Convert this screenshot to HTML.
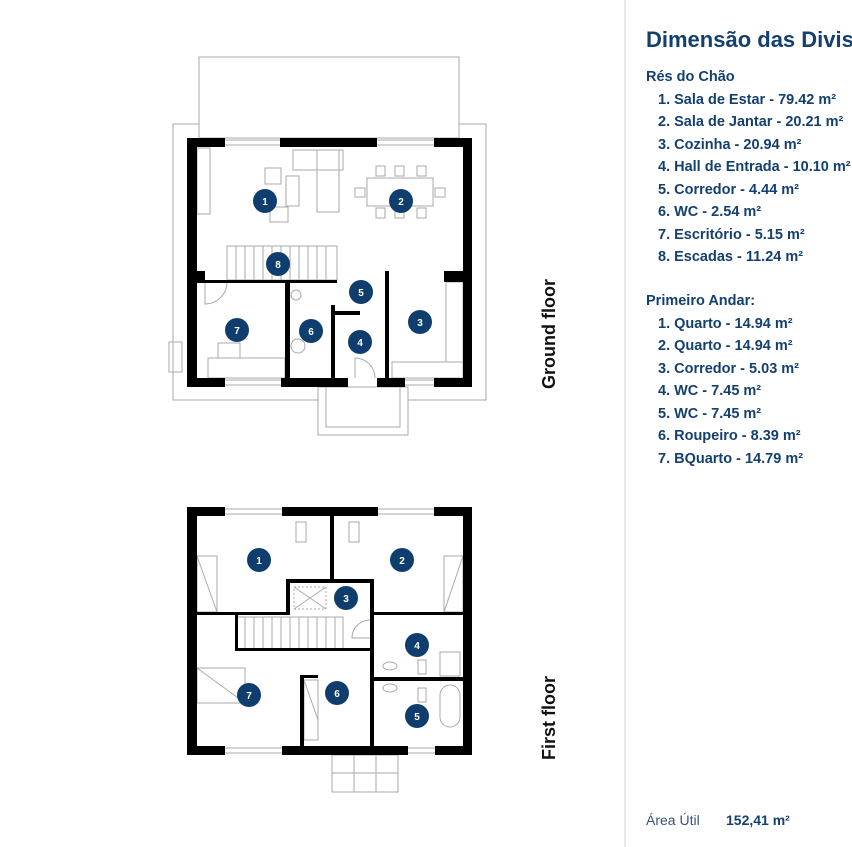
<!DOCTYPE html>
<html><head><meta charset="utf-8">
<style>
html,body{margin:0;padding:0;background:#fff;}
body{width:852px;height:847px;position:relative;overflow:hidden;font-family:"Liberation Sans","DejaVu Sans",sans-serif;}
.t{position:absolute;color:#14406f;white-space:nowrap;font-weight:bold;}
.h1{left:646px;top:27px;font-size:22px;}
.sec{left:646px;font-size:14.5px;}
.it{left:658px;font-size:14.5px;}
.div{position:absolute;left:624px;top:0;width:2px;height:847px;background:#e8e8e8;}
</style></head><body>
<svg width="852" height="847" style="position:absolute;left:0;top:0" xmlns="http://www.w3.org/2000/svg">
<g fill="none" stroke="#aaa" stroke-width="1">
<rect x="199" y="57" width="260" height="81"/>
<polyline points="199,124 173,124 173,400 318,400"/>
<polyline points="459,124 486,124 486,400 408,400"/>
<rect x="318" y="387" width="90" height="48"/>
<rect x="326" y="387" width="74" height="40"/>
<rect x="169" y="342" width="13" height="30"/>
<!-- windows -->
<path d="M225 140h55M225 145h55M377 140h57M377 145h57M225 380h56M225 385h56M405 380h29M405 385h29"/>
<path d="M225 509h57M225 514h57M378 509h56M378 514h56M225 748h57M225 753h57M408 748h27M408 753h27"/>
<rect x="197" y="148" width="13" height="66"/>
<rect x="265" y="168" width="16" height="16"/>
<rect x="286" y="176" width="13" height="30"/>
<rect x="293" y="150" width="50" height="20"/>
<rect x="317" y="150" width="22" height="62"/>
<rect x="270" y="207" width="18" height="15"/>
<rect x="367" y="178" width="66" height="28"/>
<rect x="355" y="188" width="10" height="9"/><rect x="435" y="188" width="10" height="9"/>
<rect x="376" y="166" width="9" height="10"/><rect x="395" y="166" width="9" height="10"/><rect x="417" y="166" width="9" height="10"/>
<rect x="376" y="208" width="9" height="10"/><rect x="395" y="208" width="9" height="10"/><rect x="417" y="208" width="9" height="10"/>
<rect x="227" y="246" width="110" height="34"/>
<path d="M236 246v34M245 246v34M254 246v34M263 246v34M272 246v34M281 246v34M290 246v34M299 246v34M308 246v34M317 246v34M326 246v34"/>
<rect x="446" y="282" width="17" height="80"/>
<rect x="392" y="362" width="71" height="16"/>
<rect x="208" y="358" width="77" height="20"/>
<rect x="218" y="343" width="22" height="15"/>
<path d="M205 282v22a22 22 0 0 0 22 -22"/>
<path d="M355 378v-20a20 20 0 0 1 20 20"/>
<circle cx="296" cy="295" r="5"/><circle cx="298" cy="346" r="7"/>
<rect x="197" y="556" width="20" height="56"/><path d="M197 556l20 56"/>
<rect x="444" y="556" width="19" height="56"/><path d="M463 556l-19 56"/>
<rect x="296" y="522" width="10" height="20"/><rect x="349" y="522" width="10" height="20"/>
<rect x="294" y="587" width="32" height="22" stroke-dasharray="2 2"/><path d="M294 587l32 22M326 587l-32 22"/>
<rect x="236" y="617" width="107" height="32"/>
<path d="M245 617v32M254 617v32M263 617v32M272 617v32M281 617v32M290 617v32M299 617v32M308 617v32M317 617v32M326 617v32M335 617v32"/>
<rect x="197" y="668" width="48" height="35"/><path d="M197 668l48 35"/>
<rect x="304" y="680" width="14" height="60"/><path d="M304 680l14 40"/>
<rect x="440" y="685" width="20" height="42" rx="10"/>
<ellipse cx="390" cy="666" rx="7" ry="4"/><ellipse cx="390" cy="688" rx="7" ry="4"/>
<rect x="418" y="660" width="8" height="14"/><rect x="418" y="688" width="8" height="14"/>
<rect x="440" y="652" width="20" height="24"/>
<path d="M370 620a18 18 0 0 0 -18 18h18"/>
<rect x="332" y="755" width="66" height="37"/><path d="M354 755v37M376 755v37M332 773h66"/>
</g>
<g fill="#000">
<rect x="187" y="138" width="10" height="249"/>
<rect x="463" y="138" width="9" height="249"/>
<rect x="187" y="138" width="38" height="9"/>
<rect x="280" y="138" width="97" height="9"/>
<rect x="434" y="138" width="38" height="9"/>
<rect x="187" y="378" width="38" height="9"/>
<rect x="281" y="378" width="67" height="9"/>
<rect x="377" y="378" width="28" height="9"/>
<rect x="434" y="378" width="38" height="9"/>
<rect x="196" y="271" width="9" height="11"/>
<rect x="444" y="271" width="19" height="11"/>
<rect x="196" y="280" width="141" height="3"/>
<rect x="285" y="281" width="5" height="97"/>
<rect x="331" y="305" width="4" height="73"/>
<rect x="331" y="311" width="29" height="4"/>
<rect x="385" y="271" width="4" height="107"/>
<rect x="187" y="507" width="10" height="248"/>
<rect x="463" y="507" width="9" height="248"/>
<rect x="187" y="507" width="38" height="9"/>
<rect x="282" y="507" width="96" height="9"/>
<rect x="434" y="507" width="38" height="9"/>
<rect x="187" y="746" width="38" height="9"/>
<rect x="282" y="746" width="126" height="9"/>
<rect x="435" y="746" width="37" height="9"/>
<rect x="330" y="516" width="4" height="64"/>
<rect x="286" y="579" width="88" height="4"/>
<rect x="286" y="579" width="4" height="36"/>
<rect x="196" y="612" width="94" height="3"/>
<rect x="374" y="612" width="89" height="3"/>
<rect x="370" y="579" width="4" height="167"/>
<rect x="235" y="612" width="3" height="39"/>
<rect x="235" y="648" width="138" height="3"/>
<rect x="374" y="677" width="89" height="4"/>
<rect x="300" y="675" width="4" height="71"/>
<rect x="300" y="675" width="18" height="3"/>
</g>
<g fill="#0e3d6e">
<circle cx="265" cy="201" r="12"/><circle cx="401" cy="201" r="12"/><circle cx="278" cy="264" r="12"/>
<circle cx="361" cy="292" r="12"/><circle cx="237" cy="330" r="12"/><circle cx="311" cy="331" r="12"/>
<circle cx="420" cy="322" r="12"/><circle cx="360" cy="342" r="12"/>
<circle cx="259" cy="560" r="12"/><circle cx="402" cy="560" r="12"/><circle cx="346" cy="598" r="12"/>
<circle cx="417" cy="645" r="12"/><circle cx="249" cy="695" r="12"/><circle cx="337" cy="693" r="12"/>
<circle cx="417" cy="716" r="12"/>
</g>
<g fill="#fff" font-family="Liberation Sans, sans-serif" font-size="10" font-weight="bold" text-anchor="middle">
<text x="265" y="205">1</text><text x="401" y="205">2</text><text x="278" y="268">8</text>
<text x="361" y="296">5</text><text x="237" y="334">7</text><text x="311" y="335">6</text>
<text x="420" y="326">3</text><text x="360" y="346">4</text>
<text x="259" y="564">1</text><text x="402" y="564">2</text><text x="346" y="602">3</text>
<text x="417" y="649">4</text><text x="249" y="699">7</text><text x="337" y="697">6</text>
<text x="417" y="720">5</text>
</g>
<g font-family="Liberation Sans, sans-serif" font-size="18" font-weight="bold" fill="#111" text-anchor="middle">
<text transform="translate(555,334) rotate(-90)">Ground floor</text>
<text transform="translate(555,718) rotate(-90)">First floor</text>
</g>
</svg>
<div class="div"></div>
<div class="t h1">Dimensão das Divisões</div>
<div class="t sec" style="top:69px">Rés do Chão</div>
<div class="t it" style="top:92px">1. Sala de Estar - 79.42 m²</div>
<div class="t it" style="top:114px">2. Sala de Jantar - 20.21 m²</div>
<div class="t it" style="top:137px">3. Cozinha - 20.94 m²</div>
<div class="t it" style="top:159px">4. Hall de Entrada - 10.10 m²</div>
<div class="t it" style="top:182px">5. Corredor - 4.44 m²</div>
<div class="t it" style="top:204px">6. WC - 2.54 m²</div>
<div class="t it" style="top:227px">7. Escritório - 5.15 m²</div>
<div class="t it" style="top:249px">8. Escadas - 11.24 m²</div>
<div class="t sec" style="top:293px">Primeiro Andar:</div>
<div class="t it" style="top:316px">1. Quarto - 14.94 m²</div>
<div class="t it" style="top:338px">2. Quarto - 14.94 m²</div>
<div class="t it" style="top:361px">3. Corredor - 5.03 m²</div>
<div class="t it" style="top:383px">4. WC - 7.45 m²</div>
<div class="t it" style="top:406px">5. WC - 7.45 m²</div>
<div class="t it" style="top:428px">6. Roupeiro - 8.39 m²</div>
<div class="t it" style="top:451px">7. BQuarto - 14.79 m²</div>
<div class="t" style="left:646px;top:812px;font-size:14px;font-weight:normal;color:#3a5575">Área Útil</div>
<div class="t" style="left:726px;top:812px;font-size:14px">152,41 m²</div>
</body></html>
